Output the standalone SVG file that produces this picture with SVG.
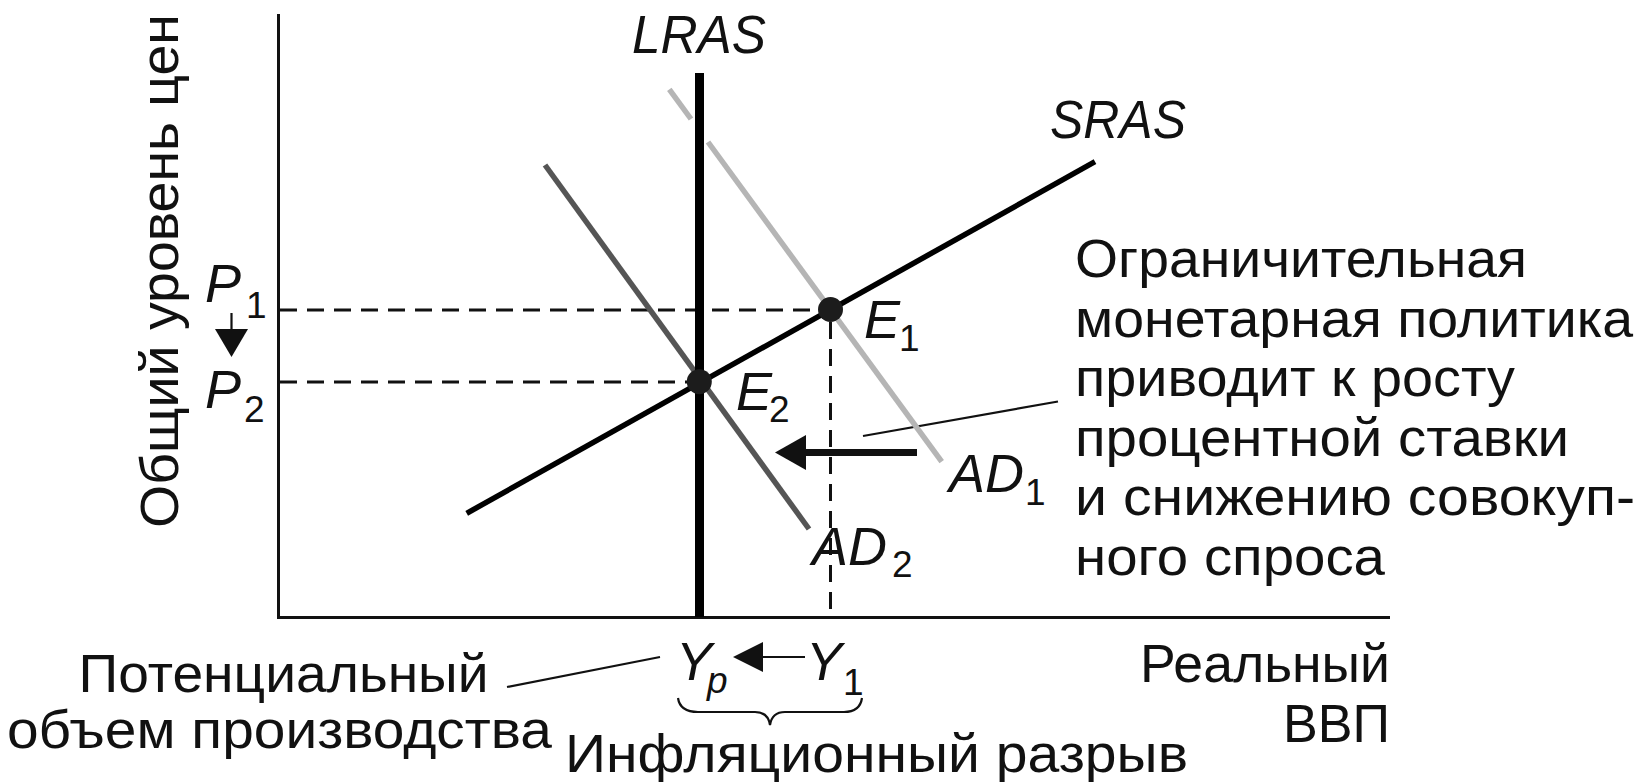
<svg xmlns="http://www.w3.org/2000/svg" width="1648" height="782" viewBox="0 0 1648 782">
<defs>
<style>
.t{font-family:"Liberation Sans",Arial,sans-serif;font-size:54px;fill:#111}
.i{font-style:italic}
.s{font-family:"Liberation Sans",Arial,sans-serif;font-size:37px;fill:#111}
.ax{stroke:#111;stroke-width:3;fill:none}
.dash{stroke:#111;stroke-width:3;stroke-dasharray:17 10;fill:none}
.lead{stroke:#111;stroke-width:2.2;fill:none}
.dot{fill:#1c1c1c}
</style>
</defs>
<rect width="1648" height="782" fill="#fff"/>

<g id="axes">
<polyline class="ax" points="278.5,14 278.5,617.5 1390,617.5"/>
<text class="t" transform="translate(178,528) rotate(-90)" textLength="514" lengthAdjust="spacingAndGlyphs">Общий уровень цен</text>
<text class="t" x="1140" y="682" textLength="250" lengthAdjust="spacingAndGlyphs">Реальный</text>
<text class="t" x="1283" y="742" textLength="107" lengthAdjust="spacingAndGlyphs">ВВП</text>
</g>

<g id="connectors">
<line class="dash" x1="280" y1="310" x2="820" y2="310"/>
<line class="dash" x1="280" y1="382" x2="690" y2="382"/>
<line class="dash" x1="830.5" y1="322" x2="830.5" y2="616"/>
<line class="lead" x1="863" y1="436" x2="1058" y2="401.5"/>
<line class="lead" x1="507" y1="687" x2="660" y2="657"/>
<line x1="231.5" y1="313" x2="231.5" y2="330" stroke="#111" stroke-width="2.2"/>
<polygon points="215,329 248,329 231.5,357" fill="#111"/>
<line x1="760" y1="657" x2="805" y2="657" stroke="#111" stroke-width="2.2"/>
<polygon points="733,657 763,642 763,672" fill="#111"/>
<line x1="800" y1="452.5" x2="917" y2="452.5" stroke="#111" stroke-width="7"/>
<polygon points="775,452.5 806,435 806,470" fill="#111"/>
<path class="lead" d="M678,698 Q680,712 698,712 L755,712 Q768,712 770,725 Q772,712 785,712 L844,712 Q860,712 862,698" stroke-width="2"/>
</g>

<g id="AD1">
<line x1="669.3" y1="89.3" x2="691" y2="119" stroke="#b5b5b5" stroke-width="5.5"/>
<line x1="708" y1="142" x2="941.7" y2="461.7" stroke="#b5b5b5" stroke-width="5.5"/>
<text class="t i" x="949" y="492">AD</text>
<text class="s" x="1025" y="505">1</text>
</g>

<g id="AD2">
<line x1="545" y1="165" x2="809" y2="529" stroke="#555" stroke-width="5.5"/>
<text class="t i" x="812" y="565">AD</text>
<text class="s" x="892" y="577">2</text>
</g>

<g id="LRAS">
<line x1="699.5" y1="73" x2="699.5" y2="617" stroke="#000" stroke-width="9"/>
<text class="t i" x="632" y="53" textLength="134" lengthAdjust="spacingAndGlyphs">LRAS</text>
</g>

<g id="SRAS">
<line x1="466.7" y1="513.3" x2="1095" y2="161.7" stroke="#000" stroke-width="5.5"/>
<text class="t i" x="1050" y="138" textLength="136" lengthAdjust="spacingAndGlyphs">SRAS</text>
</g>

<g id="E1">
<circle class="dot" cx="830.5" cy="309.5" r="12.5"/>
<text class="t i" x="864" y="338">E</text>
<text class="s" x="899" y="351">1</text>
</g>

<g id="E2">
<circle class="dot" cx="699.3" cy="381.7" r="12.5"/>
<text class="t i" x="736" y="410">E</text>
<text class="s" x="769" y="422">2</text>
</g>

<g id="P-labels">
<text class="t i" x="205" y="302">P</text>
<text class="s" x="246" y="318">1</text>
<text class="t i" x="205" y="408">P</text>
<text class="s" x="244" y="422">2</text>
</g>

<g id="Y-labels">
<text class="t i" x="676" y="680">Y</text>
<text class="s i" x="707" y="693">p</text>
<text class="t i" x="806" y="680">Y</text>
<text class="s" x="843" y="695">1</text>
<text class="t" x="565" y="772" textLength="623" lengthAdjust="spacingAndGlyphs">Инфляционный разрыв</text>
</g>

<g id="potential">
<text class="t" x="78.6" y="692" textLength="410" lengthAdjust="spacingAndGlyphs">Потенциальный</text>
<text class="t" x="7" y="748" textLength="545" lengthAdjust="spacingAndGlyphs">объем производства</text>
</g>

<g id="policy-note">
<text class="t" x="1075" y="277" textLength="452" lengthAdjust="spacingAndGlyphs">Ограничительная</text>
<text class="t" x="1075" y="336.5" textLength="558" lengthAdjust="spacingAndGlyphs">монетарная политика</text>
<text class="t" x="1075" y="396" textLength="440" lengthAdjust="spacingAndGlyphs">приводит к росту</text>
<text class="t" x="1075" y="455.5" textLength="494" lengthAdjust="spacingAndGlyphs">процентной ставки</text>
<text class="t" x="1075" y="515" textLength="560" lengthAdjust="spacingAndGlyphs">и снижению совокуп-</text>
<text class="t" x="1075" y="574.5" textLength="310" lengthAdjust="spacingAndGlyphs">ного спроса</text>
</g>
</svg>
